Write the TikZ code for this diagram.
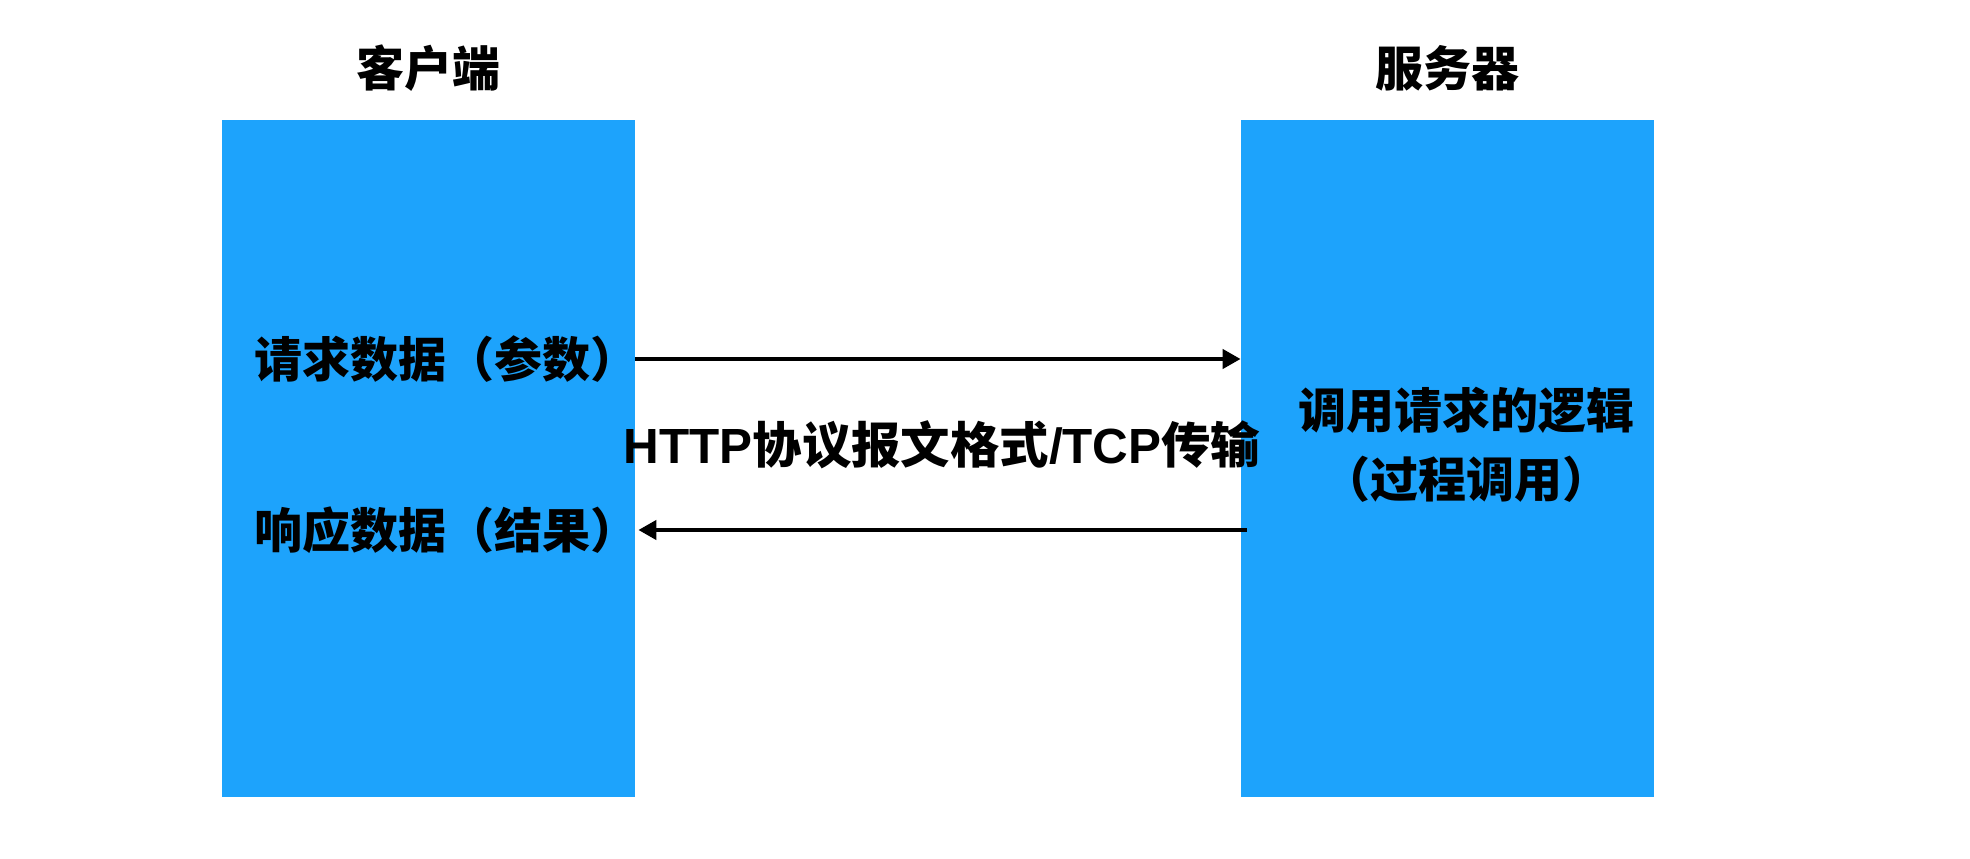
\documentclass[tikz,border=0pt]{standalone}
\usetikzlibrary{arrows.meta,positioning}
\usepackage{xcolor}
\usepackage{fontspec}
\setmainfont{Noto Sans CJK SC}
\newfontfamily\latfont{Liberation Sans}
\definecolor{boxblue}{RGB}{29,163,252}

\begin{document}
\begin{tikzpicture}[>={Triangle[length=9pt,width=9.5pt]},
	side/.style={fill=boxblue,minimum width=206.5pt,minimum height=338.5pt,inner sep=0pt},
	lbl/.style={font=\bfseries\fontsize{24pt}{34.5pt}\selectfont,inner sep=0pt,align=center},
	msg/.style={->,line width=2.1pt}]
	\useasboundingbox (0,0) rectangle (985pt,429pt);
	\node[side] (client) at (214.25pt,199.75pt) {};
	\node[side] (server) at (723.75pt,199.75pt) {};
	\node[lbl] (clienttitle) at (214.25pt,395pt) {客户端};
	\node[lbl] (servertitle) at (723.75pt,395pt) {服务器};
	\node[lbl] (req) at (223pt,249.5pt) {请求数据（参数）};
	\node[lbl] (resp) at (223pt,164pt) {响应数据（结果）};
	\node[lbl] (logic) at (733pt,206.75pt) {调用请求的逻辑\\（过程调用）};
	\node[lbl,font=\bfseries\fontsize{24.7pt}{30pt}\selectfont] (proto) at (471pt,206.75pt)
		{{\latfont HTTP}协议报文格式{\latfont /TCP}传输};
	% request and response
	\draw[msg] (client.east |- req) -- (server.west |- req);
	\draw[msg] ([xshift=3pt]server.west |- resp) -- ([xshift=1.5pt]client.east |- resp);
\end{tikzpicture}
\end{document}
